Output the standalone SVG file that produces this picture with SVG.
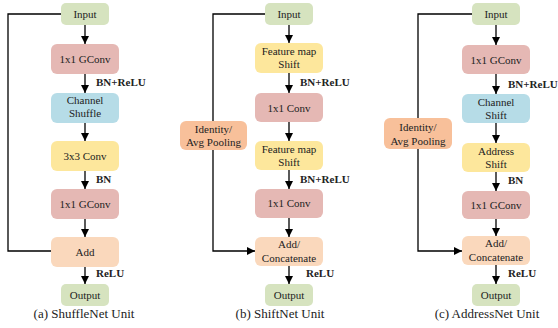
<svg xmlns="http://www.w3.org/2000/svg" width="558" height="328" viewBox="0 0 558 328" font-family="'Liberation Serif', 'Times New Roman', 'DejaVu Serif', serif">
<style>
text{font-family:'Liberation Serif','Times New Roman','DejaVu Serif',serif;fill:#222;}
.t{font-size:11px;text-anchor:middle;}
.l{font-size:11px;font-weight:bold;}
.cap{font-size:13px;text-anchor:middle;}
.io{fill:#d6e3bf;}
.pk{fill:#e5b8b4;}
.bl{fill:#b6dce7;}
.ye{fill:#fde79c;}
.pe{fill:#fad8bc;}
.or{fill:#f8c09a;}
.c{stroke:#000;stroke-width:1.3;fill:none;}
</style>
<defs>
<marker id="ah" viewBox="0 0 10 10" refX="10" refY="5" markerWidth="8" markerHeight="8" markerUnits="userSpaceOnUse" orient="auto"><path d="M0,0 L10,5 L0,10 Z" fill="#000"/></marker>
</defs>
<g id="connectors">
<path class="c" d="M85,25 V44" marker-end="url(#ah)"/>
<path class="c" d="M85,74 V93" marker-end="url(#ah)"/>
<path class="c" d="M85,123 V141" marker-end="url(#ah)"/>
<path class="c" d="M85,171 V189" marker-end="url(#ah)"/>
<path class="c" d="M85,219 V237" marker-end="url(#ah)"/>
<path class="c" d="M85,267 V284" marker-end="url(#ah)"/>
<path class="c" d="M61,14 H8 V251 H51"/>
<path class="c" d="M289,25 V43" marker-end="url(#ah)"/>
<path class="c" d="M289,73 V93" marker-end="url(#ah)"/>
<path class="c" d="M289,122 V141" marker-end="url(#ah)"/>
<path class="c" d="M289,170 V189" marker-end="url(#ah)"/>
<path class="c" d="M289,218 V237" marker-end="url(#ah)"/>
<path class="c" d="M289,266 V284" marker-end="url(#ah)"/>
<path class="c" d="M265,14 H213 V121"/>
<path class="c" d="M213,150 V251 H255" marker-end="url(#ah)"/>
<path class="c" d="M496,25 V45" marker-end="url(#ah)"/>
<path class="c" d="M496,74 V94" marker-end="url(#ah)"/>
<path class="c" d="M496,123 V143" marker-end="url(#ah)"/>
<path class="c" d="M496,172 V191" marker-end="url(#ah)"/>
<path class="c" d="M496,219 V236" marker-end="url(#ah)"/>
<path class="c" d="M496,265 V284" marker-end="url(#ah)"/>
<path class="c" d="M472,14 H418 V118"/>
<path class="c" d="M418,149 V251 H462" marker-end="url(#ah)"/>
<text class="l" x="96" y="86">BN+ReLU</text>
<text class="l" x="96" y="183">BN</text>
<text class="l" x="96" y="277">ReLU</text>
<text class="l" x="300" y="86">BN+ReLU</text>
<text class="l" x="300" y="183">BN+ReLU</text>
<text class="l" x="306" y="277">ReLU</text>
<text class="l" x="508" y="88">BN+ReLU</text>
<text class="l" x="508" y="184">BN</text>
<text class="l" x="508" y="277">ReLU</text>
</g>
<g id="a-input"><rect class="io" x="61" y="3" width="48" height="22" rx="5"/><text class="t" x="85" y="18">Input</text></g>
<g id="a-gconv1"><rect class="pk" x="51" y="44" width="68" height="30" rx="6"/><text class="t" x="85" y="63">1x1 GConv</text></g>
<g id="a-shuffle"><rect class="bl" x="51" y="93" width="68" height="30" rx="6"/><text class="t" x="85" y="104">Channel</text><text class="t" x="85" y="117">Shuffle</text></g>
<g id="a-conv3"><rect class="ye" x="51" y="141" width="68" height="30" rx="6"/><text class="t" x="85" y="160">3x3 Conv</text></g>
<g id="a-gconv2"><rect class="pk" x="51" y="189" width="68" height="30" rx="6"/><text class="t" x="85" y="208">1x1 GConv</text></g>
<g id="a-add"><rect class="pe" x="51" y="237" width="68" height="30" rx="6"/><text class="t" x="85" y="256">Add</text></g>
<g id="a-output"><rect class="io" x="61" y="284" width="48" height="22" rx="5"/><text class="t" x="85" y="299">Output</text></g>
<text class="cap" x="84" y="318">(a) ShuffleNet Unit</text>
<g id="b-input"><rect class="io" x="265" y="3" width="48" height="22" rx="5"/><text class="t" x="289" y="18">Input</text></g>
<g id="b-shift1"><rect class="ye" x="255" y="43" width="68" height="30" rx="6"/><text class="t" x="289" y="55">Feature map</text><text class="t" x="289" y="68">Shift</text></g>
<g id="b-conv1"><rect class="pk" x="255" y="93" width="68" height="29" rx="6"/><text class="t" x="289" y="112">1x1 Conv</text></g>
<g id="b-shift2"><rect class="ye" x="255" y="141" width="68" height="29" rx="6"/><text class="t" x="289" y="153">Feature map</text><text class="t" x="289" y="166">Shift</text></g>
<g id="b-conv2"><rect class="pk" x="255" y="189" width="68" height="29" rx="6"/><text class="t" x="289" y="207">1x1 Conv</text></g>
<g id="b-add"><rect class="pe" x="255" y="237" width="68" height="29" rx="6"/><text class="t" x="289" y="248">Add/</text><text class="t" x="289" y="262">Concatenate</text></g>
<g id="b-output"><rect class="io" x="265" y="284" width="48" height="22" rx="5"/><text class="t" x="289" y="299">Output</text></g>
<g id="b-identity"><rect class="or" x="180" y="121" width="67" height="29" rx="6"/><text class="t" x="213.5" y="133">Identity/</text><text class="t" x="213.5" y="146">Avg Pooling</text></g>
<text class="cap" x="280" y="318">(b) ShiftNet Unit</text>
<g id="c-input"><rect class="io" x="472" y="3" width="48" height="22" rx="5"/><text class="t" x="496" y="18">Input</text></g>
<g id="c-gconv1"><rect class="pk" x="462" y="45" width="68" height="29" rx="6"/><text class="t" x="496" y="64">1x1 GConv</text></g>
<g id="c-chshift"><rect class="bl" x="462" y="94" width="68" height="29" rx="6"/><text class="t" x="496" y="106">Channel</text><text class="t" x="496" y="119">Shift</text></g>
<g id="c-addrshift"><rect class="ye" x="462" y="143" width="68" height="29" rx="6"/><text class="t" x="496" y="155">Address</text><text class="t" x="496" y="168">Shift</text></g>
<g id="c-gconv2"><rect class="pk" x="462" y="191" width="68" height="28" rx="6"/><text class="t" x="496" y="209">1x1 GConv</text></g>
<g id="c-add"><rect class="pe" x="462" y="236" width="68" height="29" rx="6"/><text class="t" x="496" y="247">Add/</text><text class="t" x="496" y="261">Concatenate</text></g>
<g id="c-output"><rect class="io" x="472" y="284" width="48" height="22" rx="5"/><text class="t" x="496" y="299">Output</text></g>
<g id="c-identity"><rect class="or" x="384" y="118" width="68" height="31" rx="6"/><text class="t" x="418" y="131">Identity/</text><text class="t" x="418" y="145">Avg Pooling</text></g>
<text class="cap" x="487" y="318">(c) AddressNet Unit</text>
</svg>
